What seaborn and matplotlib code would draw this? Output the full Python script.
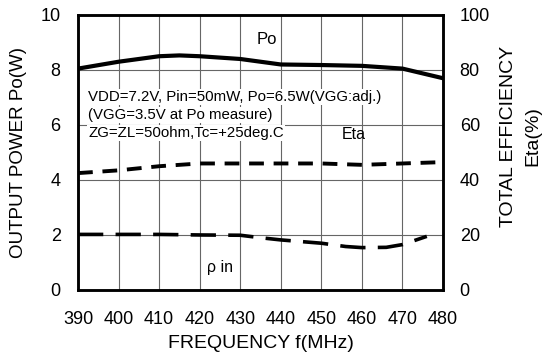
import matplotlib
matplotlib.use("Agg")
import matplotlib.pyplot as plt
import seaborn as sns
import pandas as pd

freq_po = [390, 400, 410, 415, 420, 430, 440, 450, 460, 470, 480]
po_w = [8.05, 8.3, 8.5, 8.53, 8.5, 8.4, 8.2, 8.18, 8.15, 8.05, 7.7]

freq_eta = [390, 400, 410, 420, 430, 440, 450, 460, 470, 480]
eta_pct = [42.5, 43.5, 45.0, 46.0, 46.0, 46.0, 46.0, 45.5, 46.0, 46.5]

freq_rho = [390, 400, 410, 420, 430, 435, 440, 450, 456, 460, 466, 470, 476]
rho_in = [2.02, 2.02, 2.02, 2.0, 1.99, 1.9, 1.82, 1.7, 1.58, 1.54, 1.55, 1.65, 1.95]

x_ticks = [390, 400, 410, 420, 430, 440, 450, 460, 470, 480]
y_ticks_left = [0, 2, 4, 6, 8, 10]
y_ticks_right = [0, 20, 40, 60, 80, 100]

note_lines = ["VDD=7.2V, Pin=50mW, Po=6.5W(VGG:adj.)",
              "(VGG=3.5V at Po measure)",
              "ZG=ZL=50ohm,Tc=+25deg.C"]

sns.set_theme(style="white")
plt.rcParams['font.family'] = ['Liberation Sans', 'DejaVu Sans']
plt.rcParams['text.color'] = 'black'
plt.rcParams['axes.labelcolor'] = 'black'
plt.rcParams['xtick.color'] = 'black'
plt.rcParams['ytick.color'] = 'black'

fig = plt.figure(figsize=(5.44, 3.62), dpi=100)
ax = fig.add_axes([0.1434, 0.199, 0.671, 0.7596])
ax2 = ax.twinx()

df_po = pd.DataFrame({"f": freq_po, "v": po_w})
df_eta = pd.DataFrame({"f": freq_eta, "v": eta_pct})
df_rho = pd.DataFrame({"f": freq_rho, "v": rho_in})

sns.lineplot(data=df_po, x="f", y="v", ax=ax, color="black", lw=3.0, zorder=5)
sns.lineplot(data=df_rho, x="f", y="v", ax=ax, color="black", lw=2.6, zorder=5)
ax.lines[-1].set_dashes([7, 3.4])
sns.lineplot(data=df_eta, x="f", y="v", ax=ax2, color="black", lw=2.8, zorder=5)
ax2.lines[-1].set_dashes([3.8, 2.5])

ax.set_xlim(390, 480)
ax.set_ylim(0, 10)
ax2.set_ylim(0, 100)
ax.set_xticks(x_ticks)
ax.set_yticks(y_ticks_left)
ax2.set_yticks(y_ticks_right)
ax.set_xticklabels([str(t) for t in x_ticks], fontsize=13)
ax.set_yticklabels([str(t) for t in y_ticks_left], fontsize=13)
ax2.set_yticklabels([str(t) for t in y_ticks_right], fontsize=13)
ax.tick_params(axis='x', length=0, pad=15)
ax.tick_params(axis='y', length=0, pad=12.5)
ax2.tick_params(axis='y', length=0, pad=12)

ax.grid(True, color="#666666", lw=0.8)
ax2.grid(False)
for a in (ax, ax2):
    for s in a.spines.values():
        s.set_color("black")
        s.set_linewidth(1.8)

ax.set_xlabel("FREQUENCY f(MHz)", fontsize=14, labelpad=5)
ax.set_ylabel("OUTPUT POWER Po(W)", fontsize=13.5, labelpad=10)
ax2.set_ylabel("TOTAL EFFICIENCY\nEta(%)", fontsize=14,
               linespacing=1.6)
ax2.yaxis.set_label_coords(1.155, 0.56)

ax.text(436.5, 9.1, "Po", fontsize=12, ha="center", va="center", zorder=6)
ax2.text(458, 56.4, "Eta", fontsize=11.5, ha="center", va="center", zorder=6)
ax.text(425, 0.8, "ρ in", fontsize=11.5, ha="center", va="center", zorder=6)

for line, yv in zip(note_lines, [7.02, 6.36, 5.71]):
    ax.text(392.5, yv, line, fontsize=10.8, ha="left", va="center", zorder=6,
            bbox=dict(facecolor="white", edgecolor="none", pad=0.5))

fig.savefig("out.png", dpi=100)
